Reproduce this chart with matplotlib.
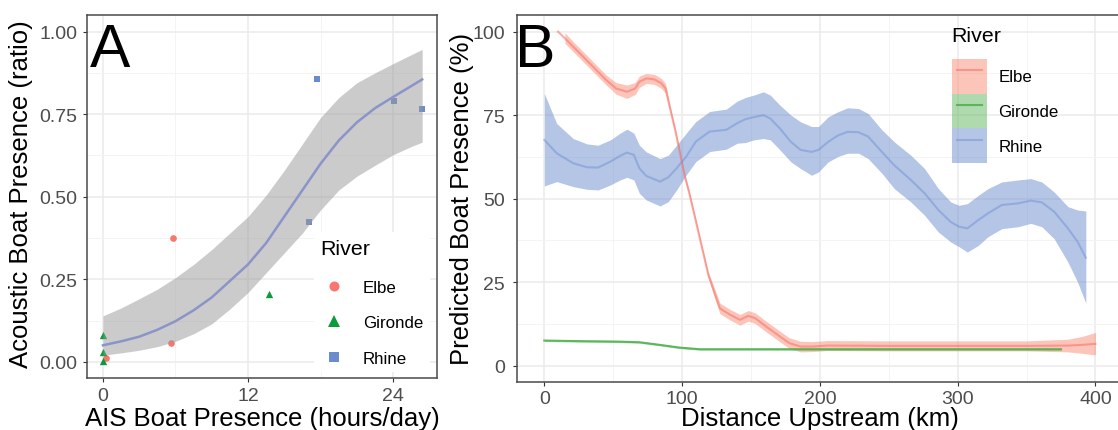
import numpy as np
import matplotlib
matplotlib.use('Agg')
import matplotlib.pyplot as plt
from matplotlib.lines import Line2D
from matplotlib.patches import Patch
from matplotlib.legend_handler import HandlerTuple
from matplotlib.ticker import MultipleLocator, FormatStrFormatter

plt.rcParams['font.family'] = ['Liberation Sans', 'DejaVu Sans']

rivers = ['Elbe', 'Gironde', 'Rhine']
col_elbe = '#F8766D'
col_gironde = '#0B9A3C'
col_rhine = '#6A8CCF'
band_elbe = '#FA8066'
band_gironde = '#4DAF4A'

# ---- panel A: acoustic vs AIS presence ----
elbe_ais = [0.25, 5.6, 5.8]
elbe_acoustic = [0.013, 0.057, 0.375]
gironde_ais = [0.0, 0.0, 0.0, 13.7]
gironde_acoustic = [0.080, 0.030, 0.003, 0.204]
rhine_ais = [17.0, 17.7, 24.1, 26.4]
rhine_acoustic = [0.423, 0.857, 0.789, 0.764]

# logistic fit
fit_x = [0, 1.5, 3, 4.5, 6, 7.5, 9, 10.5, 12, 13.5, 15, 16.5, 18, 19.5, 21, 22.5, 24, 25.5, 26.4]
fit_y = [0.050, 0.062, 0.076, 0.097, 0.123, 0.156, 0.195, 0.245, 0.295, 0.36, 0.44,
         0.52, 0.60, 0.67, 0.725, 0.768, 0.802, 0.835, 0.855]
fit_lo = [0.020, 0.027, 0.035, 0.046, 0.062, 0.085, 0.115, 0.16, 0.21, 0.27, 0.33,
          0.39, 0.46, 0.52, 0.562, 0.595, 0.627, 0.652, 0.665]
fit_hi = [0.139, 0.163, 0.191, 0.22, 0.255, 0.295, 0.34, 0.39, 0.44, 0.505, 0.58,
          0.66, 0.74, 0.80, 0.845, 0.875, 0.903, 0.93, 0.946]

# ---- panel B: predicted presence along the river ----
elbe_km = [10, 15, 21, 33, 45, 52, 60, 66, 69, 74, 80, 85, 88, 91, 95, 98.5, 102, 105, 109,
           114, 119, 124, 127.5, 135, 142, 148, 153, 161, 171, 178, 186, 195, 205, 250,
           300, 350, 380, 390, 400]
elbe_pred = [100, 98, 95.5, 90.5, 85.5, 83, 82, 83, 85, 86, 85.7, 84.5, 83, 77.5, 70.5, 63.6,
             56.6, 52, 45, 36.1, 27.2, 21.2, 17.1, 15.2, 13.7, 14.9, 14.2, 11.7, 8.7, 6.7,
             5.7, 5.7, 6.0, 5.9, 5.9, 5.9, 6.0, 6.2, 6.5]
elbe_lo = [np.nan, 96.5, 94, 89, 84, 81.3, 80, 81.2, 83.3, 84.5, 84.2, 83, 81.5, 76.5, 69.7,
           62.8, 55.8, 51.2, 44.2, 35.3, 26.3, 19.8, 15.5, 13.6, 12.1, 13.3, 12.6, 10.1, 7.1,
           5.1, 4.1, 4.2, 4.5, 4.4, 4.4, 4.4, 4.1, 3.7, 3.2]
elbe_hi = [np.nan, 99.7, 97, 92, 87, 84.8, 84, 84.8, 86.7, 87.5, 87.2, 86, 84.5, 78.5, 71.3,
           64.4, 57.4, 52.8, 45.8, 36.9, 28.1, 22.6, 18.7, 16.8, 15.3, 16.5, 15.8, 13.3, 10.3,
           8.3, 7.3, 7.2, 7.5, 7.4, 7.4, 7.4, 7.9, 8.7, 9.9]

gironde_km = [0, 30, 52, 69, 84, 98, 113, 150, 200, 250, 300, 350, 375]
gironde_pred = [7.5, 7.3, 7.2, 7.0, 6.2, 5.4, 4.9, 4.9, 4.9, 4.9, 4.9, 4.9, 4.9]
gironde_lo = [7.2, 7.0, 6.9, 6.7, 5.9, 5.1, 4.6, 4.6, 4.6, 4.6, 4.6, 4.6, 4.6]
gironde_hi = [7.8, 7.6, 7.5, 7.3, 6.5, 5.7, 5.2, 5.2, 5.2, 5.2, 5.2, 5.2, 5.2]

rhine_km = [0, 9, 21, 31, 39, 48, 55, 60, 65, 69, 74, 84, 90, 96, 103, 110, 120, 132, 140,
            146, 152, 159, 164, 171, 179, 186, 194, 199, 206, 213, 220, 228, 235, 245, 254,
            266, 276, 286, 295, 301, 307, 315, 322, 332, 344, 353, 361, 370, 380, 387, 393]
rhine_pred = [67.6, 63.6, 60.6, 59.4, 59.3, 61.1, 62.8, 63.8, 63.1, 59.1, 56.8, 55.1, 56.4,
              59.1, 62.6, 67.1, 70.1, 70.6, 72.6, 73.8, 74.4, 75, 74, 71, 67, 64.6, 64, 64.6,
              67, 68.9, 70, 69.9, 68.6, 64, 60, 55.6, 51.6, 46.6, 43, 41.6, 41.1, 43.6, 45.6,
              48.1, 48.6, 49.4, 48.9, 46.1, 41.1, 37.1, 32.3]
rhine_lo = [53.8, 55.1, 53.6, 52.8, 52.6, 54.1, 55.6, 56.4, 55.6, 51.6, 49.6, 47.8, 49.1,
            52.6, 57.1, 61.1, 64.1, 64.8, 66.6, 66.8, 67.6, 68, 67.6, 64.6, 61, 59, 57, 58,
            61, 62.6, 63.6, 63.6, 62, 57.6, 53, 49, 45, 40, 37, 35.6, 34, 36, 38.6, 41, 41.6,
            42.6, 41.6, 38, 31, 25, 18.7]
rhine_hi = [81.5, 72.5, 68, 66.4, 66, 67.6, 69.6, 70.8, 69.6, 66, 64, 62, 63, 66, 69.6, 73.1,
            76.1, 76.8, 79.2, 80.3, 81, 82, 81, 78, 75, 73, 71.6, 71.6, 74.5, 76, 77.2, 77,
            75.5, 70.6, 67, 63, 59, 53, 49, 48, 48.5, 51, 53, 55, 55.6, 56, 55, 52, 47.6,
            46.6, 46.3]


def style_axes(ax, xpad, ypad):
    ax.set_facecolor('white')
    for sp in ax.spines.values():
        sp.set_color('#4a4a4a')
        sp.set_linewidth(1.1)
    ax.grid(which='major', color='#EBEBEB', lw=1.1)
    ax.grid(which='minor', color='#F3F3F3', lw=0.6)
    ax.set_axisbelow(True)
    ax.tick_params(which='major', length=2.75, width=0.8, color='#333333',
                   labelcolor='#4D4D4D', labelsize=14)
    ax.tick_params(axis='x', which='major', pad=xpad)
    ax.tick_params(axis='y', which='major', pad=ypad)
    ax.tick_params(which='minor', length=0)


fig = plt.figure(figsize=(11.18, 4.31), dpi=100)
ax_a = fig.add_axes([0.0778, 0.1199, 0.3128, 0.8429])
ax_b = fig.add_axes([0.4622, 0.1107, 0.5423, 0.8522])

# panel A
style_axes(ax_a, 3.5, 4.2)
ax_a.scatter(elbe_ais, elbe_acoustic, s=23, marker='o', color=col_elbe, lw=0, zorder=2)
ax_a.scatter(gironde_ais, gironde_acoustic, s=28, marker='^', color=col_gironde, lw=0, zorder=2)
ax_a.scatter(rhine_ais, rhine_acoustic, s=18.5, marker='s', color=col_rhine, lw=0, zorder=2)
ax_a.fill_between(fit_x, fit_lo, fit_hi, color='#999999', alpha=0.5, lw=0, zorder=3)
ax_a.plot(fit_x, fit_y, color='#8B94C9', lw=1.8, zorder=4)

ax_a.set_xlim(-1.32, 27.6)
ax_a.set_ylim(-0.05, 1.05)
ax_a.xaxis.set_major_locator(MultipleLocator(12))
ax_a.xaxis.set_minor_locator(MultipleLocator(6))
ax_a.yaxis.set_major_locator(MultipleLocator(0.25))
ax_a.yaxis.set_minor_locator(MultipleLocator(0.125))
ax_a.yaxis.set_major_formatter(FormatStrFormatter('%.2f'))
ax_a.set_xlabel('AIS Boat Presence (hours/day)', fontsize=18.5)
ax_a.set_ylabel('Acoustic Boat Presence (ratio)', fontsize=18.5)
ax_a.xaxis.set_label_coords(0.502, -0.076)
ax_a.yaxis.set_label_coords(-0.153, 0.51)

handles_a = [Line2D([], [], ls='', marker='o', ms=7.2, color=col_elbe, mew=0),
             Line2D([], [], ls='', marker='^', ms=8.4, color=col_gironde, mew=0),
             Line2D([], [], ls='', marker='s', ms=7.0, color=col_rhine, mew=0)]
leg_a = ax_a.legend(handles_a, rivers, title='River', loc='upper left',
                    bbox_to_anchor=(313.7 / 1118, 1 - 233 / 431), bbox_transform=fig.transFigure,
                    fontsize=12.2, title_fontsize=15.4, frameon=True, facecolor='white',
                    edgecolor='none', framealpha=1, fancybox=False, borderpad=0.4,
                    borderaxespad=0, handlelength=1.6, handletextpad=0.9, labelspacing=1.2,
                    alignment='left')
leg_a._legend_box.sep = 16

# panel B: ribbons first, then lines (ggplot layer order)
style_axes(ax_b, 3.0, 5.7)
ax_b.fill_between(elbe_km, elbe_lo, elbe_hi, color=band_elbe, alpha=0.45, lw=0)
ax_b.fill_between(gironde_km, gironde_lo, gironde_hi, color=band_gironde, alpha=0.45, lw=0)
ax_b.fill_between(rhine_km, rhine_lo, rhine_hi, color=col_rhine, alpha=0.5, lw=0)
ax_b.plot(elbe_km, elbe_pred, color=col_elbe, alpha=0.6, lw=1.5)
ax_b.plot(gironde_km, gironde_pred, color=band_gironde, alpha=0.85, lw=1.5)
ax_b.plot(rhine_km, rhine_pred, color=col_rhine, alpha=0.45, lw=1.5)

ax_b.set_xlim(-20, 420)
ax_b.set_ylim(-5, 105)
ax_b.xaxis.set_major_locator(MultipleLocator(100))
ax_b.xaxis.set_minor_locator(MultipleLocator(50))
ax_b.yaxis.set_major_locator(MultipleLocator(25))
ax_b.yaxis.set_minor_locator(MultipleLocator(12.5))
ax_b.set_xlabel('Distance Upstream (km)', fontsize=18.5)
ax_b.set_ylabel('Predicted Boat Presence (%)', fontsize=18.5)
ax_b.xaxis.set_label_coords(0.4994, -0.064)
ax_b.yaxis.set_label_coords(-0.0704, 0.502)

# legend keys: ribbon patch with the line drawn over it
band_cols = [(band_elbe, 0.45, col_elbe, 0.6), (band_gironde, 0.45, band_gironde, 0.85),
             (col_rhine, 0.5, col_rhine, 0.45)]
handles_b = [(Patch(facecolor=c, alpha=a, lw=0), Line2D([], [], color=lc, alpha=la, lw=1.5))
             for c, a, lc, la in band_cols]
leg_b = ax_b.legend(handles_b, rivers, handler_map={tuple: HandlerTuple(ndivide=1)},
                    title='River', loc='upper left',
                    bbox_to_anchor=(951.7 / 1118, 1 - 27 / 431), bbox_transform=fig.transFigure,
                    frameon=False, fontsize=12.2, title_fontsize=15.4, borderpad=0,
                    borderaxespad=0, handlelength=2.06, handleheight=2.78, labelspacing=0,
                    handletextpad=0.68, alignment='left', numpoints=2)
leg_b._legend_box.sep = 10

# panel letters
fig.text(90 / 1118, 1 - 67 / 431, 'A', fontsize=43.6, va='baseline', ha='left')
fig.text(515 / 1118, 1 - 67 / 431, 'B', fontsize=43.6, va='baseline', ha='left')

fig.savefig('out.png', dpi=100)
